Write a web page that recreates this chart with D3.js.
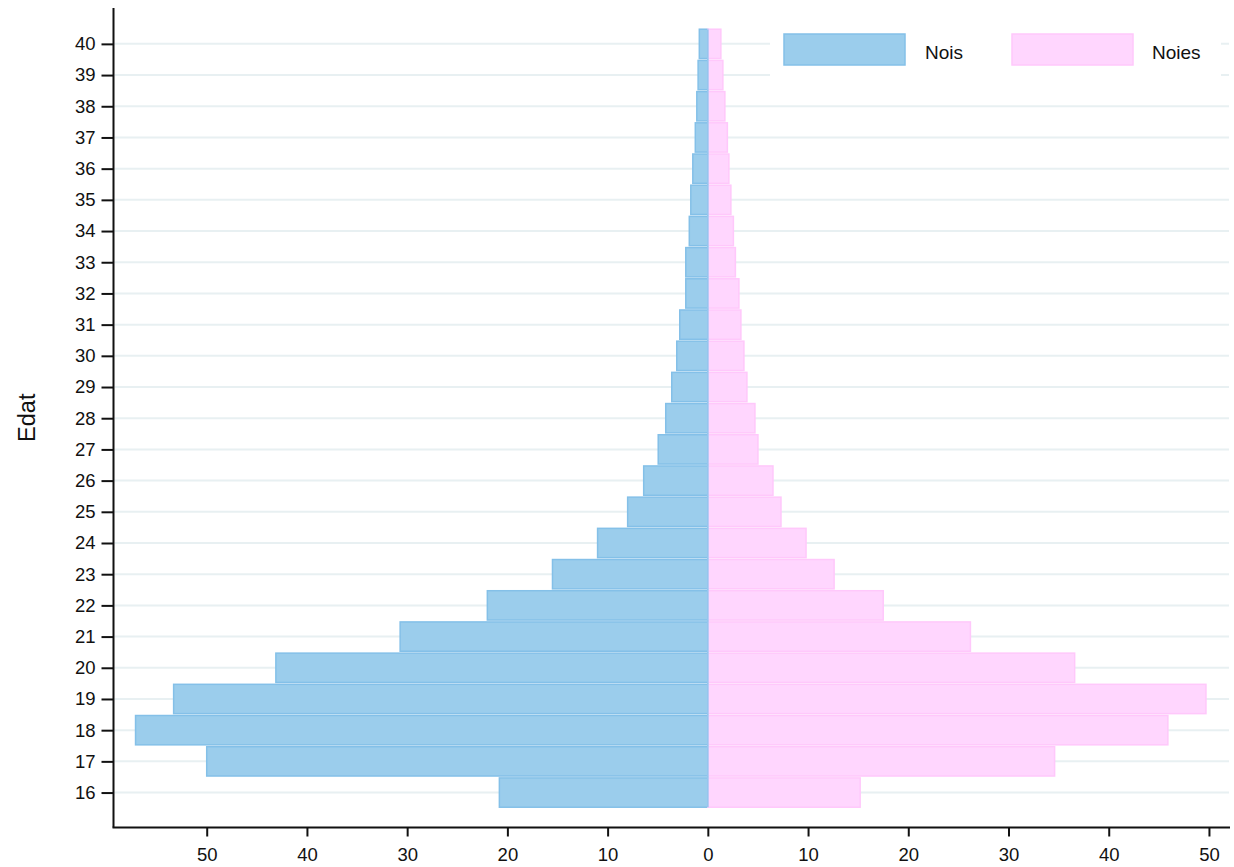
<!DOCTYPE html>
<html>
<head>
<meta charset="utf-8">
<script src="https://cdn.jsdelivr.net/npm/d3@7"></script>
<style>
  html, body { margin: 0; padding: 0; background: #fff; }
  svg { display: block; font-family: "Liberation Sans", Arial, Helvetica, sans-serif; }
</style>
</head>
<body>
<svg id="chart" width="1234" height="867"></svg>
<script>
const ages  = [16,17,18,19,20,21,22,23,24,25,26,27,28,29,30,31,32,33,34,35,36,37,38,39,40];
const nois  = [20.8,50.0,57.1,53.3,43.1,30.7,22.0,15.5,11.0,8.0,6.4,4.95,4.2,3.6,3.1,2.8,2.2,2.2,1.85,1.7,1.5,1.25,1.1,0.97,0.85];
const noies = [15.2,34.6,45.9,49.7,36.6,26.2,17.5,12.6,9.8,7.3,6.5,5.0,4.7,3.9,3.6,3.3,3.1,2.75,2.55,2.3,2.1,1.95,1.7,1.5,1.3];
const xTicks = [-50,-40,-30,-20,-10,0,10,20,30,40,50];
const seriesNames = ["Nois","Noies"];
const yTitle = "Edat";

const svg = d3.select("#chart");
const pL = 113.5, pR = 1230, pT = 8, pB = 827.5;

const x = d3.scaleLinear().domain([-59.3, 52.1]).range([pL, pR]);
const y = d3.scaleLinear().domain([14.88, 41.15]).range([pB, pT]);

// grid lines
svg.append("g").selectAll("line").data(ages).join("line")
  .attr("x1", pL + 1).attr("x2", 1229)
  .attr("y1", d => y(d)).attr("y2", d => y(d))
  .attr("stroke", "#e8f0f2").attr("stroke-width", 2);

// bars
const half = 0.47;
const gB = svg.append("g");
gB.selectAll("rect.nois").data(ages).join("rect").attr("class","nois")
  .attr("x", (d,i) => x(-nois[i]))
  .attr("width", (d,i) => x(0) - x(-nois[i]))
  .attr("y", d => y(d + half))
  .attr("height", d => y(d - half) - y(d + half))
  .attr("fill", "#9bcdec").attr("stroke", "#84c0e8").attr("stroke-width", 1.5);
gB.selectAll("rect.noies").data(ages).join("rect").attr("class","noies")
  .attr("x", x(0))
  .attr("width", (d,i) => x(noies[i]) - x(0))
  .attr("y", d => y(d + half))
  .attr("height", d => y(d - half) - y(d + half))
  .attr("fill", "#ffd6fe").attr("stroke", "#ffc8fb").attr("stroke-width", 1.5);

// blue edge along center line
svg.append("line").attr("x1", x(0)).attr("x2", x(0))
  .attr("y1", y(40 + half)).attr("y2", y(16 - half))
  .attr("stroke", "#8cc6ec").attr("stroke-width", 1.5);

// axes
const yAxis = d3.axisLeft(y).tickValues(ages).tickSize(12).tickPadding(6).tickFormat(d3.format("d"));
const gy = svg.append("g").attr("transform", `translate(${pL},0)`).call(yAxis);
gy.select(".domain").attr("d", `M0,${pT}V${pB}`).attr("stroke", "#111").attr("stroke-width", 2);
gy.selectAll(".tick line").attr("stroke", "#111").attr("stroke-width", 2);
gy.selectAll(".tick text").attr("font-size", 18.5).attr("fill", "#111")
  .attr("font-family", "'Liberation Sans', Arial, sans-serif");

const xAxis = d3.axisBottom(x).tickValues(xTicks).tickSize(9).tickPadding(11).tickFormat(d => Math.abs(d));
const gx = svg.append("g").attr("transform", `translate(0,${pB})`).call(xAxis);
gx.select(".domain").attr("d", `M${pL - 1},0H${pR}`).attr("stroke", "#111").attr("stroke-width", 2);
gx.selectAll(".tick line").attr("stroke", "#111").attr("stroke-width", 2);
gx.selectAll(".tick text").attr("font-size", 18.5).attr("fill", "#111")
  .attr("font-family", "'Liberation Sans', Arial, sans-serif");

// y title
svg.append("text").attr("transform", `translate(35,${(pT + pB) / 2 + 0}) rotate(-90)`)
  .attr("text-anchor", "middle").attr("font-size", 23.5).attr("fill", "#111").text(yTitle);

// legend
const lg = svg.append("g");
lg.append("rect").attr("x", 770).attr("y", 22).attr("width", 451).attr("height", 66).attr("fill", "#fff");
const legendItems = [
  {name: seriesNames[0], fill: "#9bcdec", stroke: "#84c0e8", sx: 784, tx: 925},
  {name: seriesNames[1], fill: "#ffd6fe", stroke: "#ffc8fb", sx: 1012, tx: 1152}
];
legendItems.forEach(it => {
  lg.append("rect").attr("x", it.sx).attr("y", 34).attr("width", 121).attr("height", 31)
    .attr("fill", it.fill).attr("stroke", it.stroke).attr("stroke-width", 1.5);
  lg.append("text").attr("x", it.tx).attr("y", 58.5).attr("font-size", 19).attr("fill", "#111").text(it.name);
});
</script>
</body>
</html>
